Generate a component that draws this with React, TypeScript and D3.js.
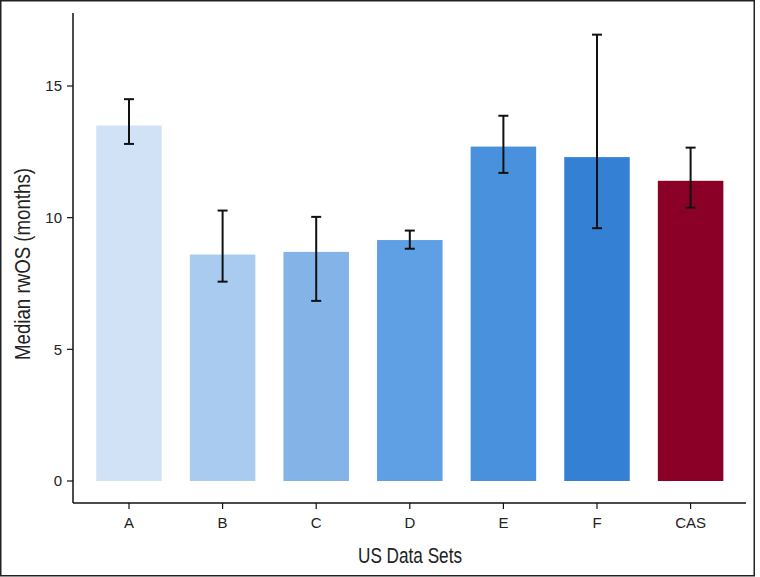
import React from "react";
import * as d3 from "d3";

const categories = ["A", "B", "C", "D", "E", "F", "CAS"];
const medians = [13.5, 8.6, 8.7, 9.15, 12.7, 12.3, 11.4];
const lowerCI = [12.8, 7.57, 6.84, 8.82, 11.7, 9.6, 10.38];
const upperCI = [14.5, 10.27, 10.03, 9.51, 13.87, 16.95, 12.66];
const colors = ["#d1e2f7", "#aacbf0", "#83b3e7", "#5f9fe3", "#4a91dd", "#3480d5", "#8a0027"];
const yTicks = [0, 5, 10, 15];

const W = 760;
const H = 577;

export default function App() {
  const x = d3
    .scaleBand<string>()
    .domain(categories)
    .range([82.2, 737.4])
    .paddingInner(0.3)
    .paddingOuter(0.15);
  const y = d3.scaleLinear().domain([0, 15]).range([481, 86]);

  const axisX = 73;
  const axisY = 503;
  const axisTop = 13;
  const axisRight = 746;
  const regular = "'Liberation Sans', Arial, Helvetica, sans-serif";

  return (
    <svg
      width={W}
      height={H}
      style={{ position: "absolute", left: 0, top: 0, display: "block", background: "#fff" }}
    >
      <rect x={0.75} y={0.75} width={753.5} height={575} fill="#fff" stroke="#222" strokeWidth={1.5} />

      {categories.map((c, i) => (
        <rect
          key={c}
          x={x(c)}
          y={y(medians[i])}
          width={x.bandwidth()}
          height={y(0) - y(medians[i])}
          fill={colors[i]}
        />
      ))}

      {categories.map((c, i) => {
        const cx = (x(c) as number) + x.bandwidth() / 2;
        return (
          <g key={"e" + c} stroke="#111" strokeWidth={2}>
            <line x1={cx} x2={cx} y1={y(lowerCI[i])} y2={y(upperCI[i])} />
            <line x1={cx - 5} x2={cx + 5} y1={y(lowerCI[i])} y2={y(lowerCI[i])} />
            <line x1={cx - 5} x2={cx + 5} y1={y(upperCI[i])} y2={y(upperCI[i])} />
          </g>
        );
      })}

      {/* Y axis */}
      <line x1={axisX} x2={axisX} y1={axisTop} y2={axisY} stroke="#111" strokeWidth={1.5} />
      {yTicks.map((t) => (
        <g key={"y" + t}>
          <line x1={axisX - 6} x2={axisX} y1={y(t)} y2={y(t)} stroke="#111" strokeWidth={1.2} />
          <text
            x={axisX - 11}
            y={y(t)}
            dy="0.35em"
            textAnchor="end"
            fontFamily={regular}
            fontSize={15}
            fill="#222"
          >
            {t}
          </text>
        </g>
      ))}

      {/* X axis */}
      <line x1={axisX} x2={axisRight} y1={axisY} y2={axisY} stroke="#111" strokeWidth={1.5} />
      {categories.map((c) => {
        const cx = (x(c) as number) + x.bandwidth() / 2;
        return (
          <g key={"x" + c}>
            <line x1={cx} x2={cx} y1={axisY} y2={axisY + 6} stroke="#111" strokeWidth={1.2} />
            <text x={cx} y={527.5} textAnchor="middle" fontFamily={regular} fontSize={15} fill="#222">
              {c}
            </text>
          </g>
        );
      })}

      <text
        x={410}
        y={563}
        textAnchor="middle"
        fontFamily={regular}
        fontSize={22}
        fill="#222"
        textLength={104}
        lengthAdjust="spacingAndGlyphs"
      >
        US Data Sets
      </text>
      <text
        transform={`translate(30, 264) rotate(-90)`}
        textAnchor="middle"
        fontFamily={regular}
        fontSize={22}
        fill="#222"
        textLength={192}
        lengthAdjust="spacingAndGlyphs"
      >
        Median rwOS (months)
      </text>
    </svg>
  );
}
